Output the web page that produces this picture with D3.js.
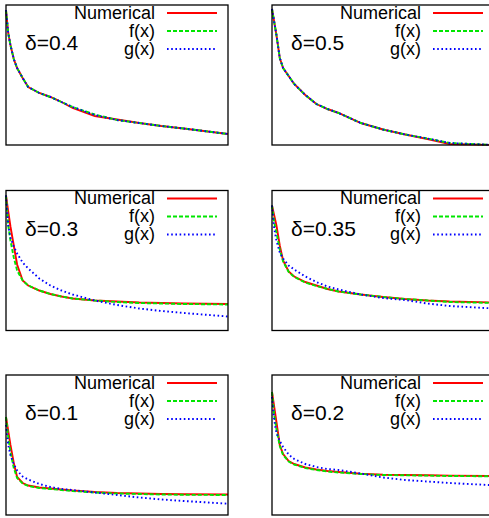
<!DOCTYPE html>
<html>
<head>
<meta charset="utf-8">
<script src="https://cdn.jsdelivr.net/npm/d3@7"></script>
<style>
  body { margin: 0; background: #fff; }
  text { font-family: "Liberation Sans", Arial, sans-serif; fill: #000; }
</style>
</head>
<body>
<div id="chart"></div>
<script>
// common x grid
const xs = [0, 0.1, 0.2, 0.35, 0.5, 0.75, 1, 1.5, 2, 2.5, 3, 4, 5, 6, 7, 8, 10];

// panel order: row by row
const deltas = ["0.4", "0.5", "0.3", "0.35", "0.1", "0.2"];

const numerical = [
  [1.35, 1.12, 1.00, 0.86, 0.77, 0.67, 0.58, 0.52, 0.48, 0.43, 0.37, 0.29, 0.255, 0.22, 0.19, 0.165, 0.11],
  [1.36, 1.23, 1.10, 0.87, 0.77, 0.69, 0.61, 0.50, 0.41, 0.36, 0.32, 0.22, 0.155, 0.105, 0.06, 0.01, 0.0],
  [1.35, 1.19, 1.04, 0.85, 0.66, 0.50, 0.45, 0.40, 0.365, 0.34, 0.32, 0.30, 0.29, 0.28, 0.275, 0.27, 0.265],
  [1.25, 1.15, 1.05, 0.85, 0.70, 0.59, 0.54, 0.485, 0.45, 0.415, 0.39, 0.36, 0.335, 0.315, 0.30, 0.29, 0.28],
  [0.98, 0.84, 0.70, 0.52, 0.38, 0.32, 0.295, 0.275, 0.265, 0.255, 0.245, 0.23, 0.22, 0.215, 0.21, 0.207, 0.205],
  [1.23, 1.08, 0.93, 0.70, 0.61, 0.54, 0.51, 0.475, 0.455, 0.44, 0.43, 0.413, 0.403, 0.40, 0.397, 0.394, 0.39]
];

const fx = [
  [1.35, 1.12, 1.00, 0.86, 0.77, 0.67, 0.58, 0.52, 0.48, 0.43, 0.38, 0.305, 0.25, 0.22, 0.19, 0.165, 0.11],
  [1.36, 1.23, 1.10, 0.87, 0.77, 0.69, 0.61, 0.50, 0.41, 0.36, 0.32, 0.22, 0.155, 0.105, 0.065, 0.02, 0.0],
  [1.35, 1.05, 0.90, 0.73, 0.60, 0.50, 0.45, 0.40, 0.365, 0.34, 0.32, 0.30, 0.285, 0.275, 0.27, 0.265, 0.26],
  [1.25, 1.08, 0.98, 0.81, 0.69, 0.585, 0.535, 0.48, 0.445, 0.415, 0.39, 0.36, 0.335, 0.315, 0.30, 0.285, 0.275],
  [0.98, 0.78, 0.63, 0.47, 0.37, 0.315, 0.29, 0.27, 0.26, 0.25, 0.24, 0.225, 0.215, 0.21, 0.205, 0.202, 0.20],
  [1.23, 1.00, 0.86, 0.69, 0.60, 0.535, 0.505, 0.47, 0.45, 0.435, 0.425, 0.41, 0.40, 0.397, 0.394, 0.39, 0.387]
];

const gx = [
  [1.35, 1.12, 1.00, 0.86, 0.77, 0.67, 0.58, 0.52, 0.48, 0.43, 0.38, 0.30, 0.25, 0.22, 0.19, 0.165, 0.11],
  [1.36, 1.23, 1.10, 0.87, 0.77, 0.69, 0.61, 0.50, 0.41, 0.36, 0.32, 0.22, 0.155, 0.105, 0.065, 0.02, 0.0],
  [1.35, 1.05, 0.93, 0.84, 0.77, 0.68, 0.62, 0.52, 0.45, 0.40, 0.36, 0.30, 0.255, 0.22, 0.195, 0.175, 0.14],
  [1.25, 1.02, 0.90, 0.78, 0.72, 0.65, 0.61, 0.54, 0.485, 0.44, 0.41, 0.36, 0.325, 0.305, 0.27, 0.245, 0.22],
  [0.90, 0.70, 0.60, 0.51, 0.445, 0.385, 0.355, 0.31, 0.28, 0.26, 0.25, 0.225, 0.20, 0.175, 0.155, 0.14, 0.113],
  [1.18, 0.95, 0.82, 0.74, 0.68, 0.605, 0.56, 0.51, 0.48, 0.46, 0.45, 0.415, 0.375, 0.35, 0.335, 0.32, 0.297]
];

const seriesNames = ["Numerical", "f(x)", "g(x)"];

const width = 489;
const height = 518;
const pw = 222;
const ph = 140;
const colLeft = [6, 272];
const rowTop = [5, 190.5, 375];

const styles = [
  { color: "#ff0000", dash: null },
  { color: "#00e600", dash: "4,2" },
  { color: "#0000ff", dash: "1.6,2.6" }
];

const x = d3.scaleLinear().domain([0, 10]).range([0, pw]);
const y = d3.scaleLinear().domain([0, 1.4]).range([ph, 0]);

const line = d3.line()
  .x((d, i) => x(xs[i]))
  .y(d => y(d));

const svg = d3.select("#chart")
  .append("svg")
  .attr("width", width)
  .attr("height", height);

svg.append("rect")
  .attr("width", width)
  .attr("height", height)
  .attr("fill", "#fff");

deltas.forEach((delta, p) => {
  const g = svg.append("g")
    .attr("transform", `translate(${colLeft[p % 2]},${rowTop[Math.floor(p / 2)]})`);

  const sets = [numerical[p], fx[p], gx[p]];

  // legend
  const leg = g.selectAll(".legend")
    .data(seriesNames)
    .enter().append("g")
    .attr("class", "legend")
    .attr("transform", (d, i) => `translate(0,${13.5 + i * 18})`);

  leg.append("text")
    .attr("x", 149)
    .attr("text-anchor", "end")
    .style("font-size", "18px")
    .text(d => d);

  leg.append("line")
    .attr("x1", 161)
    .attr("x2", 211)
    .attr("y1", -5.5)
    .attr("y2", -5.5)
    .attr("stroke", (d, i) => styles[i].color)
    .attr("stroke-width", 1.8)
    .attr("stroke-dasharray", (d, i) => styles[i].dash);

  g.append("text")
    .attr("x", 19)
    .attr("y", 45)
    .style("font-size", "21px")
    .text(`δ=${delta}`);

  g.selectAll(".curve")
    .data(sets)
    .enter().append("path")
    .attr("class", "curve")
    .attr("d", line)
    .attr("fill", "none")
    .attr("stroke", (d, i) => styles[i].color)
    .attr("stroke-width", 1.9)
    .attr("stroke-dasharray", (d, i) => styles[i].dash);

  g.append("rect")
    .attr("width", pw)
    .attr("height", ph)
    .attr("fill", "none")
    .attr("stroke", "#000")
    .attr("stroke-width", 1.3);
});
</script>
</body>
</html>
